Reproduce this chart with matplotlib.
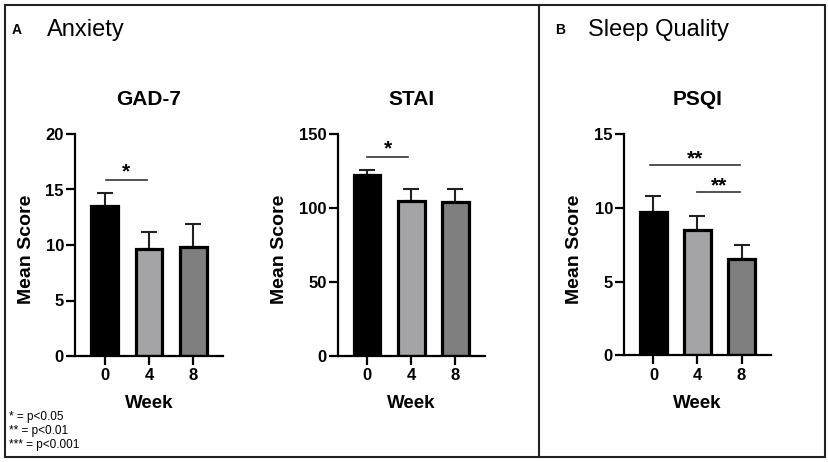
import matplotlib
matplotlib.use("Agg")
import matplotlib.pyplot as plt
from matplotlib.patches import Rectangle
from matplotlib.lines import Line2D

plt.rcParams['font.family'] = ['Liberation Sans', 'DejaVu Sans']

# ---- data ----
weeks = ["0", "4", "8"]
gad7_mean = [13.5, 9.6, 9.8]
gad7_err = [1.2, 1.6, 2.1]
stai_mean = [122.5, 105.0, 104.0]
stai_err = [3.5, 7.5, 9.0]
psqi_mean = [9.7, 8.5, 6.5]
psqi_err = [1.1, 0.95, 1.0]

bar_colors = ["#000000", "#a4a4a7", "#7f7f7f"]

W, H = 829, 462
fig = plt.figure(figsize=(W / 100, H / 100), dpi=100)


def rect(l, r, t, b):
    return [l / W, (H - b) / H, (r - l) / W, (b - t) / H]


def panel(box, means, errs, ymax, yticks, title, title_x, ylab_x):
    l, r, t, b = box
    ax = fig.add_axes(rect(l, r, t, b))
    x = list(range(len(weeks)))
    ax.bar(x, means, width=0.6, color=bar_colors, edgecolor="black",
           linewidth=2.3, zorder=2)
    ax.errorbar(x, means, yerr=[[0] * len(errs), errs], fmt="none",
                ecolor="#222222", elinewidth=1.5, capsize=5.5, capthick=1.5,
                zorder=1)
    ax.set_xlim(-0.67, 2.67)
    ax.set_ylim(0, ymax)
    ax.set_yticks(yticks)
    ax.set_xticks(x)
    ax.set_xticklabels(weeks)
    for s in ["top", "right"]:
        ax.spines[s].set_visible(False)
    for s in ["left", "bottom"]:
        ax.spines[s].set_linewidth(1.6)
    ax.tick_params(axis="both", width=1.6, length=6.5, labelsize=12)
    ax.tick_params(axis="y", pad=1.5)
    ax.tick_params(axis="x", pad=2.5)
    for lab in ax.get_xticklabels() + ax.get_yticklabels():
        lab.set_fontweight("bold")
    ax.set_ylabel("Mean Score", fontsize=14, fontweight="bold", va="center")
    ax.yaxis.set_label_coords((ylab_x - l) / (r - l), 0.48)
    ax.set_xlabel("Week", fontsize=13.5, fontweight="bold", va="center")
    ax.xaxis.set_label_coords(0.5, -(404 - b) / (b - t))
    fig.text(title_x / W, 1 - 105 / H, title, fontsize=15, fontweight="bold",
             ha="center", va="baseline")
    return ax


def sig(ax, x0, x1, y, ytxt, label):
    ax.plot([x0, x1], [y, y], color="#333333", lw=1.2, clip_on=False)
    ax.text((x0 + x1) / 2, ytxt, label, ha="center", va="center",
            fontsize=15, fontweight="bold")


ax1 = panel((75, 223, 134, 356), gad7_mean, gad7_err, 20, [0, 5, 10, 15, 20],
            "GAD-7", 149, 26)
sig(ax1, 0.02, 0.95, 15.9, 16.6, "*")

ax2 = panel((337.7, 485, 134, 356), stai_mean, stai_err, 150, [0, 50, 100, 150],
            "STAI", 411, 280)
sig(ax2, 0.0, 0.92, 134.7, 140.0, "*")

ax3 = panel((624, 771, 134, 355.3), psqi_mean, psqi_err, 15, [0, 5, 10, 15],
            "PSQI", 697.5, 575)
sig(ax3, -0.07, 1.97, 12.88, 13.3, "**")
sig(ax3, 1.0, 1.97, 11.05, 11.45, "**")

# frame and divider
fig.add_artist(Rectangle((5 / W, 5 / H), 820 / W, 452 / H, transform=fig.transFigure,
                         fill=False, edgecolor="#222222", lw=1.5))
fig.add_artist(Line2D([539 / W, 539 / W], [5 / H, 457 / H], transform=fig.transFigure,
                      color="#222222", lw=1.5))

# panel headers
fig.text(12 / W, 1 - 33.5 / H, "A", fontsize=10, fontweight="bold", va="baseline")
fig.text(47 / W, 1 - 36 / H, "Anxiety", fontsize=17, va="baseline")
fig.text(555 / W, 1 - 33.5 / H, "B", fontsize=10, fontweight="bold", va="baseline")
fig.text(588 / W, 1 - 36 / H, "Sleep Quality", fontsize=17, va="baseline")

# footnote
for i, t in enumerate(["* = p<0.05", "** = p<0.01", "*** = p<0.001"]):
    fig.text(9 / W, 1 - (417 + 14 * i) / H, t, fontsize=8.5, va="center")

fig.savefig("out.png", dpi=100)
